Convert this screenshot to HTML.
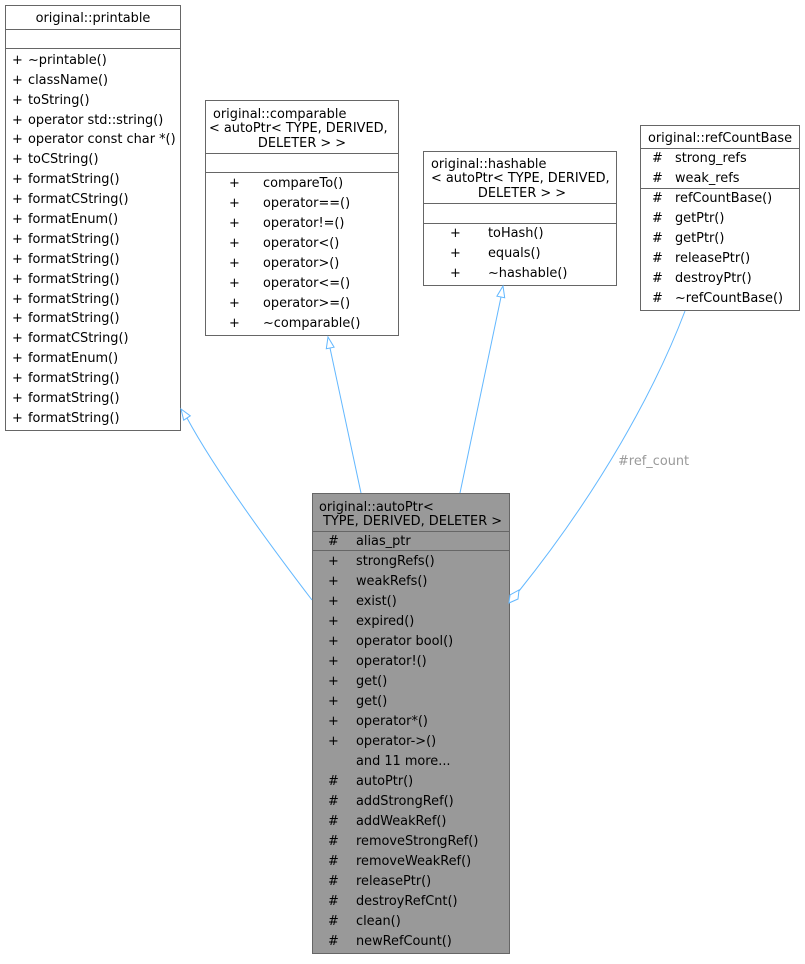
<!DOCTYPE html>
<html><head><meta charset="utf-8"><style>
html,body{margin:0;padding:0;background:#fff}
svg text{font-family:"DejaVu Sans","Liberation Sans",sans-serif;font-size:12.9px;fill:#000}
</style></head><body>
<svg width="805" height="959" viewBox="0 0 805 959" xmlns="http://www.w3.org/2000/svg">
<g stroke="#666" stroke-width="1" fill="#fff">
<rect x="5.5" y="5.5" width="175" height="425"/>
<line x1="5.5" y1="29.5" x2="180.5" y2="29.5"/><line x1="5.5" y1="48.5" x2="180.5" y2="48.5"/>
<rect x="205.5" y="100.5" width="193" height="235"/>
<line x1="205.5" y1="153.5" x2="398.5" y2="153.5"/><line x1="205.5" y1="172.5" x2="398.5" y2="172.5"/>
<rect x="423.5" y="151.5" width="193" height="134"/>
<line x1="423.5" y1="203.5" x2="616.5" y2="203.5"/><line x1="423.5" y1="223.5" x2="616.5" y2="223.5"/>
<rect x="640.5" y="125.5" width="159" height="185"/>
<line x1="640.5" y1="148.5" x2="799.5" y2="148.5"/><line x1="640.5" y1="188.5" x2="799.5" y2="188.5"/>
<rect x="312.5" y="493.5" width="197" height="460" fill="#999"/>
<line x1="312.5" y1="531.5" x2="509.5" y2="531.5"/><line x1="312.5" y1="550.5" x2="509.5" y2="550.5"/>
</g>
<g stroke="#63b8ff" stroke-width="1" fill="none">
<path d="M312,600 C270,545 215,470 187,418"/>
<polygon points="181,409 190.3,415.8 183.7,420.2" fill="#fff"/>
<path d="M361,493 L330,348"/>
<polygon points="328,337 334.1,347.2 326.3,348.8" fill="#fff"/>
<path d="M460,493 L501,297"/>
<polygon points="503,286 504.7,297.8 496.9,296.2" fill="#fff"/>
<path d="M685,311 C655,390 600,490 519,591"/>
<polygon points="509,603 510,595 519,590 518,599" fill="#fff"/>
</g>
<text x="618" y="465" style="fill:#9a9a9a">#ref_count</text>
<text x="93" y="22" text-anchor="middle">original::printable</text>
<g>
<text x="12" y="64">+</text><text x="28" y="64">~printable()</text>
<text x="12" y="84">+</text><text x="28" y="84">className()</text>
<text x="12" y="104">+</text><text x="28" y="104">toString()</text>
<text x="12" y="124">+</text><text x="28" y="124">operator std::string()</text>
<text x="12" y="143">+</text><text x="28" y="143">operator const char *()</text>
<text x="12" y="163">+</text><text x="28" y="163">toCString()</text>
<text x="12" y="183">+</text><text x="28" y="183">formatString()</text>
<text x="12" y="203">+</text><text x="28" y="203">formatCString()</text>
<text x="12" y="223">+</text><text x="28" y="223">formatEnum()</text>
<text x="12" y="243">+</text><text x="28" y="243">formatString()</text>
<text x="12" y="263">+</text><text x="28" y="263">formatString()</text>
<text x="12" y="283">+</text><text x="28" y="283">formatString()</text>
<text x="12" y="303">+</text><text x="28" y="303">formatString()</text>
<text x="12" y="322">+</text><text x="28" y="322">formatString()</text>
<text x="12" y="342">+</text><text x="28" y="342">formatCString()</text>
<text x="12" y="362">+</text><text x="28" y="362">formatEnum()</text>
<text x="12" y="382">+</text><text x="28" y="382">formatString()</text>
<text x="12" y="402">+</text><text x="28" y="402">formatString()</text>
<text x="12" y="422">+</text><text x="28" y="422">formatString()</text>
</g>
<text x="213" y="118">original::comparable</text>
<text x="209" y="132">&lt; autoPtr&lt; TYPE, DERIVED,</text>
<text x="302" y="147" text-anchor="middle">DELETER &gt; &gt;</text>
<g>
<text x="229" y="187">+</text><text x="263" y="187">compareTo()</text>
<text x="229" y="207">+</text><text x="263" y="207">operator==()</text>
<text x="229" y="227">+</text><text x="263" y="227">operator!=()</text>
<text x="229" y="247">+</text><text x="263" y="247">operator&lt;()</text>
<text x="229" y="267">+</text><text x="263" y="267">operator&gt;()</text>
<text x="229" y="287">+</text><text x="263" y="287">operator&lt;=()</text>
<text x="229" y="307">+</text><text x="263" y="307">operator&gt;=()</text>
<text x="229" y="327">+</text><text x="263" y="327">~comparable()</text>
</g>
<text x="431" y="168">original::hashable</text>
<text x="431" y="182">&lt; autoPtr&lt; TYPE, DERIVED,</text>
<text x="522" y="197" text-anchor="middle">DELETER &gt; &gt;</text>
<text x="450" y="237">+</text><text x="488" y="237">toHash()</text>
<text x="450" y="257">+</text><text x="488" y="257">equals()</text>
<text x="450" y="277">+</text><text x="488" y="277">~hashable()</text>
<text x="648" y="142">original::refCountBase</text>
<g>
<text x="652" y="162">#</text><text x="675" y="162">strong_refs</text>
<text x="652" y="182">#</text><text x="675" y="182">weak_refs</text>
<text x="652" y="202">#</text><text x="675" y="202">refCountBase()</text>
<text x="652" y="222">#</text><text x="675" y="222">getPtr()</text>
<text x="652" y="242">#</text><text x="675" y="242">getPtr()</text>
<text x="652" y="262">#</text><text x="675" y="262">releasePtr()</text>
<text x="652" y="282">#</text><text x="675" y="282">destroyPtr()</text>
<text x="652" y="302">#</text><text x="675" y="302">~refCountBase()</text>
</g>
<text x="319" y="511">original::autoPtr&lt;</text>
<text x="323" y="525">TYPE, DERIVED, DELETER &gt;</text>
<g>
<text x="328" y="545">#</text><text x="356" y="545">alias_ptr</text>
<text x="328" y="565">+</text><text x="356" y="565">strongRefs()</text>
<text x="328" y="585">+</text><text x="356" y="585">weakRefs()</text>
<text x="328" y="605">+</text><text x="356" y="605">exist()</text>
<text x="328" y="625">+</text><text x="356" y="625">expired()</text>
<text x="328" y="645">+</text><text x="356" y="645">operator bool()</text>
<text x="328" y="665">+</text><text x="356" y="665">operator!()</text>
<text x="328" y="685">+</text><text x="356" y="685">get()</text>
<text x="328" y="705">+</text><text x="356" y="705">get()</text>
<text x="328" y="725">+</text><text x="356" y="725">operator*()</text>
<text x="328" y="745">+</text><text x="356" y="745">operator-&gt;()</text>
<text x="356" y="765">and 11 more...</text>
<text x="328" y="785">#</text><text x="356" y="785">autoPtr()</text>
<text x="328" y="805">#</text><text x="356" y="805">addStrongRef()</text>
<text x="328" y="825">#</text><text x="356" y="825">addWeakRef()</text>
<text x="328" y="845">#</text><text x="356" y="845">removeStrongRef()</text>
<text x="328" y="865">#</text><text x="356" y="865">removeWeakRef()</text>
<text x="328" y="885">#</text><text x="356" y="885">releasePtr()</text>
<text x="328" y="905">#</text><text x="356" y="905">destroyRefCnt()</text>
<text x="328" y="925">#</text><text x="356" y="925">clean()</text>
<text x="328" y="945">#</text><text x="356" y="945">newRefCount()</text>
</g>
</svg>
</body></html>
